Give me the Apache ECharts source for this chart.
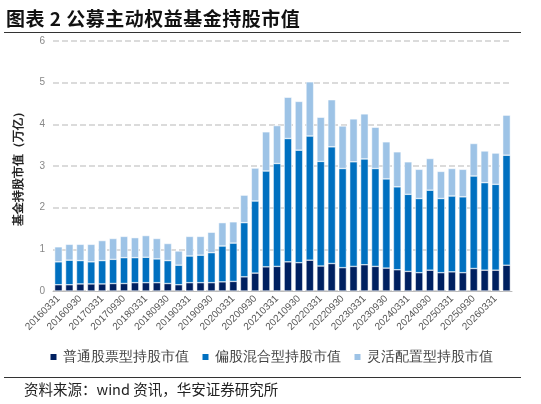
<!DOCTYPE html>
<html><head><meta charset="utf-8">
<script src="https://cdn.jsdelivr.net/npm/echarts@6/dist/echarts.min.js"></script>
<style>body{margin:0;background:#fff;font-family:"Noto Sans CJK SC",sans-serif}
#t{position:absolute;left:6px;top:4px;font-size:19px;font-weight:bold;color:#111;letter-spacing:0.5px}
#l1{position:absolute;left:4px;right:20px;top:32px;border-top:1px solid #333}
#l2{position:absolute;left:4px;right:20px;top:377px;border-top:1px solid #333}
#s{position:absolute;left:24px;top:378px;font-size:14.5px;color:#222}
#c{position:absolute;left:0;top:0;width:541px;height:404px}</style></head>
<body><div id="c"></div><div id="t">图表 2 公募主动权益基金持股市值</div><div id="l1"></div><div id="l2"></div>
<div id="s">资料来源：wind 资讯，华安证券研究所</div>
<script>
const categories=[];
const ends=['0331','0630','0930','1231'];
for(let y=2016;y<=2026;y++)for(const e of ends){if(categories.length<42)categories.push(y+e);}
const totals=[1.06,1.12,1.12,1.12,1.21,1.26,1.31,1.28,1.33,1.26,1.14,0.96,1.31,1.31,1.41,1.64,1.66,2.30,2.95,3.82,3.97,4.65,4.55,5.02,4.17,4.59,3.96,4.13,4.25,3.93,3.58,3.34,3.10,2.92,3.18,2.87,2.94,2.92,3.54,3.36,3.31,4.22];
const midTops=[0.70,0.74,0.73,0.70,0.73,0.76,0.80,0.80,0.81,0.77,0.73,0.62,0.84,0.86,0.92,1.08,1.15,1.64,2.16,2.88,3.06,3.66,3.38,3.72,3.11,3.46,2.94,3.10,3.17,2.94,2.69,2.50,2.32,2.22,2.42,2.22,2.28,2.26,2.76,2.60,2.56,3.26];
const stock=[0.15,0.15,0.17,0.17,0.17,0.18,0.18,0.20,0.20,0.20,0.18,0.15,0.20,0.20,0.20,0.22,0.23,0.34,0.43,0.58,0.59,0.70,0.68,0.74,0.60,0.66,0.56,0.59,0.63,0.59,0.55,0.51,0.47,0.44,0.50,0.44,0.46,0.44,0.54,0.50,0.50,0.62];
const hybrid=midTops.map((v,i)=>+(v-stock[i]).toFixed(2));
const flexible=totals.map((v,i)=>+(v-midTops[i]).toFixed(2));
const names=['普通股票型持股市值','偏股混合型持股市值','灵活配置型持股市值'];
const colors=['#002060','#0070C0','#9DC3E6'];
const ch=echarts.init(document.getElementById('c'));
const mk=(n,d,c)=>({name:n,type:'bar',stack:'a',data:d,barWidth:'70%',itemStyle:{color:c,borderColor:'#fff',borderWidth:0.5}});
ch.setOption({animation:false,
grid:{left:53,right:29,top:41,bottom:113},
legend:{bottom:35,left:'center',itemWidth:8,itemHeight:8,itemGap:12,icon:'rect',textStyle:{fontSize:14,color:'#444'},data:names},
xAxis:{type:'category',data:categories,axisTick:{show:false},axisLine:{lineStyle:{color:'#bbb'}},
 axisLabel:{interval:1,rotate:45,fontSize:10,color:'#555',margin:6}},
yAxis:{type:'value',min:0,max:6,interval:1,name:'基金持股市值（万亿）',nameLocation:'middle',nameGap:28,nameTextStyle:{fontSize:12,fontWeight:'bold',color:'#222'},
 axisLabel:{fontSize:10,color:'#888'},axisLine:{show:false},splitLine:{lineStyle:{type:'dashed',color:'#d0d0d0',width:1.5}}},
series:[mk(names[0],stock,colors[0]),mk(names[1],hybrid,colors[1]),mk(names[2],flexible,colors[2])]});
</script></body></html>
